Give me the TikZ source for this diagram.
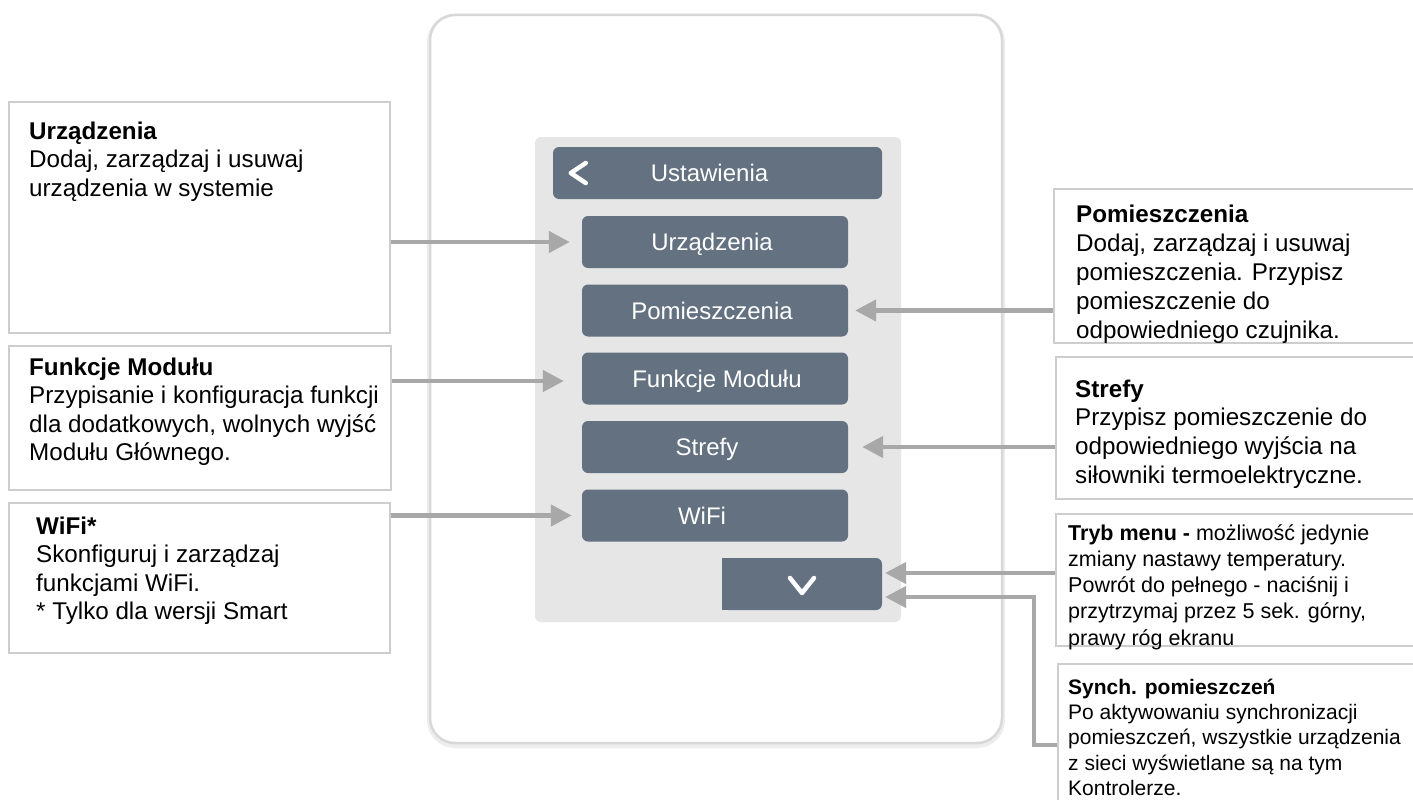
\documentclass[tikz,border=0pt]{standalone}
\usepackage{fontspec}
\setmainfont{Liberation Sans}
\usetikzlibrary{arrows.meta,calc}
\definecolor{btncol}{HTML}{637180}
\definecolor{panelcol}{HTML}{E6E6E6}
\definecolor{arrowcol}{HTML}{A8A8A8}
\definecolor{boxline}{HTML}{CDCDCD}
\definecolor{frameline}{HTML}{D8D8D8}
\tikzset{
  framebox/.style={draw=frameline, line width=2.5pt, fill=white, rounded corners=25pt, inner sep=0pt},
  panelbox/.style={fill=panelcol, draw=none, rounded corners=6pt, inner sep=0pt},
  btnbox/.style={fill=btncol, draw=none, rounded corners=6pt, inner sep=0pt, minimum height=52pt},
  btntxt/.style={text=white, inner sep=0pt, text height=17.2pt, text depth=0pt, font=\fontsize{24}{28}\selectfont},
  infobox/.style={draw=boxline, line width=2.2pt, fill=white, inner sep=0pt, anchor=north west},
  bigtxt/.style={anchor=north west, inner sep=0pt, align=left, font=\fontsize{24.2}{28.4}\selectfont},
  smalltxt/.style={anchor=north west, inner sep=0pt, align=left, font=\fontsize{21.5}{26.2}\selectfont},
  arr/.style={draw=arrowcol, line width=4.5pt, -{Triangle[length=21pt,width=21pt]}},
  chev/.style={draw=white, line width=4.5pt, line cap=round, line join=round}
}
\newcommand{\mybigstrut}{\rule{0pt}{20pt}}
\newcommand{\mysmallstrut}{\rule{0pt}{18pt}}
\begin{document}
\begin{tikzpicture}[x=1pt,y=-1pt]
\useasboundingbox (0,0) rectangle (1413,800);
\clip (0,0) rectangle (1413,800);
\fill[white] (0,0) rectangle (1413,800);

% device frame
\draw[black!7, line width=6pt, rounded corners=25pt] (430,17) rectangle (1002,745);
\node[framebox, minimum width=572pt, minimum height=728pt] (frame) at (716,379) {};
\node[panelbox, minimum width=366pt, minimum height=485pt] (panel) at (718,379.5) {};

% buttons
\node[btnbox, minimum width=329pt] (bT) at (717.5,173) {};
\node[btntxt] (tT) at ([xshift=-8pt]bT.center) {Ustawienia};
\draw[chev] ([xshift=33pt,yshift=10pt]bT.west) -- ([xshift=18pt]bT.west) -- ([xshift=33pt,yshift=-10pt]bT.west);

\node[btnbox, minimum width=266pt] (bU) at (715,242) {};
\node[btntxt] (tU) at ([xshift=-3pt]bU.center) {Urządzenia};
\node[btnbox, minimum width=266pt] (bP) at (715,310.5) {};
\node[btntxt] (tP) at ([xshift=-3pt]bP.center) {Pomieszczenia};
\node[btnbox, minimum width=266pt] (bF) at (715,378.5) {};
\node[btntxt] (tF) at ([xshift=2pt]bF.center) {Funkcje Modułu};
\node[btnbox, minimum width=266pt] (bS) at (715,447) {};
\node[btntxt] (tS) at ([xshift=-8pt]bS.center) {Strefy};
\node[btnbox, minimum width=266pt] (bW) at (715,515.5) {};
\node[btntxt] (tW) at ([xshift=-13pt]bW.center) {WiFi};

\node[btnbox, minimum width=160pt] (dn) at (802,584) {};
\fill[btncol] (dn.south west) rectangle ([xshift=10pt]dn.north west);
\draw[chev] ([xshift=-12pt,yshift=6pt]dn.center) -- ([yshift=-9pt]dn.center) -- ([xshift=12pt,yshift=6pt]dn.center);

% left boxes
\node[infobox, minimum width=381pt, minimum height=231pt] (L1) at (8,101) {};
\node[bigtxt] (L1t) at (29,119) {\mybigstrut\textbf{Urządzenia}\\Dodaj, zarządzaj i usuwaj\\urządzenia w systemie};
\node[infobox, minimum width=382pt, minimum height=144pt] (L2) at (8,345) {};
\node[bigtxt] (L2t) at (29,355) {\mybigstrut\textbf{Funkcje Modułu}\\Przypisanie i konfiguracja funkcji\\dla dodatkowych, wolnych wyjść\\Modułu Głównego.};
\node[infobox, minimum width=381pt, minimum height=150pt] (L3) at (8,502) {};
\node[bigtxt] (L3t) at (36,514) {\mybigstrut\textbf{WiFi*}\\Skonfiguruj i zarządzaj\\funkcjami WiFi.\\* Tylko dla wersji Smart};

% right boxes
\node[infobox, minimum width=380pt, minimum height=154pt] (R1) at (1053,188) {};
\node[infobox, minimum width=380pt, minimum height=142pt] (R2) at (1055,356) {};
\node[infobox, minimum width=380pt, minimum height=132pt] (R3) at (1055,513) {};
\node[infobox, minimum width=380pt, minimum height=170pt] (R4) at (1057,663) {};
\node[bigtxt, font=\fontsize{24.2}{29}\selectfont] (R1t) at (1076,202) {\mybigstrut\textbf{Pomieszczenia}\\Dodaj, zarządzaj i usuwaj\\pomieszczenia. Przypisz\\pomieszczenie do\\odpowiedniego czujnika.};
\node[bigtxt, font=\fontsize{24.2}{28.7}\selectfont] (R2t) at (1075,377) {\mybigstrut\textbf{Strefy}\\Przypisz pomieszczenie do\\odpowiedniego wyjścia na\\siłowniki termoelektryczne.};
\node[smalltxt] (R3t) at (1068,522) {\mysmallstrut\textbf{Tryb menu -} możliwość jedynie\\zmiany nastawy temperatury.\\Powrót do pełnego - naciśnij i\\przytrzymaj przez 5 sek. górny,\\prawy róg ekranu};
\node[smalltxt, font=\fontsize{21}{25.3}\selectfont] (R4t) at (1068,676) {\mysmallstrut\textbf{Synch. pomieszczeń}\\Po aktywowaniu synchronizacji\\pomieszczeń, wszystkie urządzenia\\z sieci wyświetlane są na tym\\Kontrolerze.};

% connectors
\draw[arr] (L1.east |- bU.west) -- ([xshift=-12pt]bU.west);
\draw[arr] (R1.west |- bP.east) -- ([xshift=7pt]bP.east);
\draw[arr] ([yshift=-2.5pt]L2.east |- bF.west) -- ([xshift=-18pt,yshift=-2.5pt]bF.west);
\draw[arr] (R2.west |- bS.east) -- ([xshift=14pt]bS.east);
\draw[arr] (L3.east |- bW.west) -- ([xshift=-10pt]bW.west);
\draw[arr] ([yshift=11pt]R3.west |- dn.east) -- ([xshift=3pt,yshift=11pt]dn.east);
\coordinate (elbow) at (1034,745);
\draw[arr, line join=miter] (R4.west |- elbow) -- (elbow) |- ([xshift=3pt,yshift=-13pt]dn.east);
\end{tikzpicture}
\end{document}
